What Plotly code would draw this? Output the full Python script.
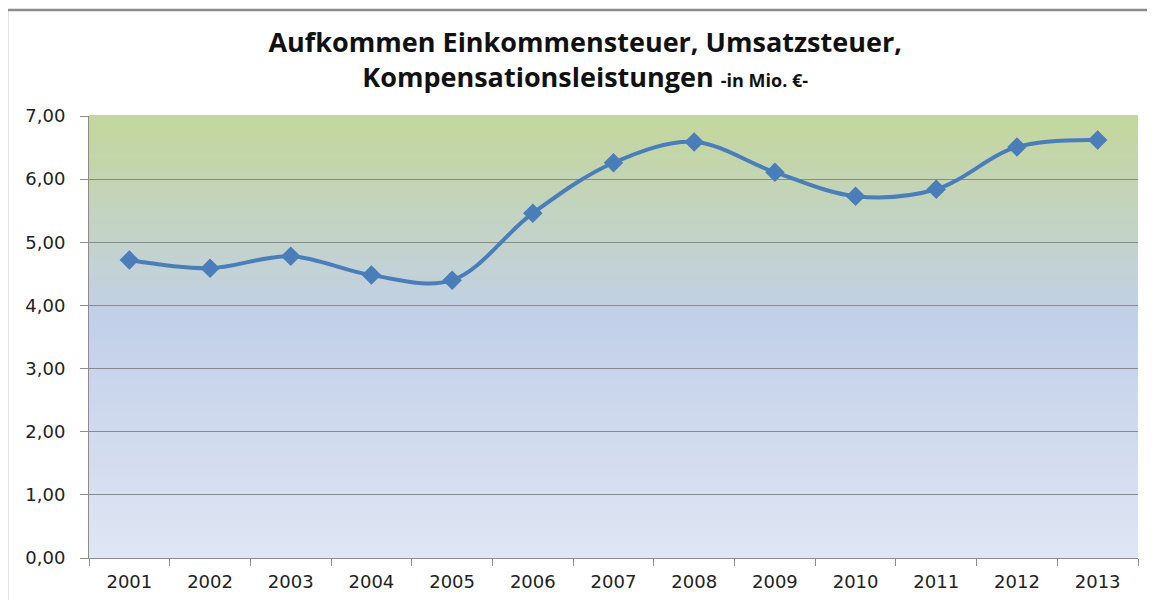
import plotly.graph_objects as go

years = ["2001", "2002", "2003", "2004", "2005", "2006", "2007",
         "2008", "2009", "2010", "2011", "2012", "2013"]
values = [4.72, 4.59, 4.78, 4.48, 4.40, 5.46, 6.26,
          6.59, 6.11, 5.73, 5.84, 6.51, 6.62]
y_ticks = [0, 1, 2, 3, 4, 5, 6, 7]

line_color = "#4a7ebb"

fig = go.Figure()
fig.add_trace(go.Scatter(
    x=years, y=values, mode="lines+markers",
    line=dict(color=line_color, width=4, shape="spline", smoothing=1.0),
    marker=dict(symbol="diamond", size=15, color=line_color),
    hoverinfo="x+y", showlegend=False,
))

# gradient background (top green -> middle blue -> light bottom)
stops = [(0.0, (196, 215, 155)), (0.47, (194, 208, 233)), (1.0, (223, 230, 244))]

def color_at(t):
    for (t0, c0), (t1, c1) in zip(stops[:-1], stops[1:]):
        if t0 <= t <= t1:
            u = (t - t0) / (t1 - t0)
            return "rgb(%d,%d,%d)" % tuple(round(a + (b - a) * u) for a, b in zip(c0, c1))
    return "rgb(%d,%d,%d)" % stops[-1][1]

shapes = []
n = 150
for i in range(n):
    t = (i + 0.5) / n
    shapes.append(dict(type="rect", xref="x domain", yref="y domain",
                       x0=0, x1=1, y0=1 - (i + 1) / n, y1=1 - i / n + 0.002,
                       fillcolor=color_at(t), line=dict(width=0), layer="below"))
# outer chart border (cropped at right/bottom)
shapes.append(dict(type="rect", xref="paper", yref="paper",
                   x0=-0.0782, x1=1.2, y0=-0.3, y1=1.2398,
                   line=dict(color="#8c8c8c", width=2.5), fillcolor="rgba(0,0,0,0)",
                   layer="above"))

fig.update_layout(
    width=1155, height=600,
    margin=dict(l=81, r=25, t=108, b=50),
    paper_bgcolor="white", plot_bgcolor="rgba(0,0,0,0)",
    separators=",.",
    shapes=shapes,
    title=dict(
        text="Aufkommen Einkommensteuer, Umsatzsteuer,<br>Kompensationsleistungen"
             " <span style='font-size:18px'>-in Mio. €-</span>",
        x=0.473, xref="paper", xanchor="center", y=0.927, yref="container", yanchor="middle",
        font=dict(family="Open Sans", size=27, color="#111111", weight="bold"),
    ),
    xaxis=dict(
        type="category", tickson="boundaries", ticks="outside", ticklen=7,
        tickcolor="#8c8c8c", showline=True, linecolor="#8c8c8c", linewidth=1,
        showgrid=False, range=[-0.5, 12.5], ticklabelstandoff=7,
        tickfont=dict(family="DejaVu Sans", size=18, color="#222222"),
    ),
    yaxis=dict(
        range=[0, 7], tickvals=y_ticks, tickformat=".2f",
        ticks="outside", ticklen=8, tickcolor="#8c8c8c",
        showline=True, linecolor="#8c8c8c", linewidth=1,
        showgrid=True, gridcolor="#8a8a8a", gridwidth=1, zeroline=False,
        ticklabelstandoff=11,
        tickfont=dict(family="DejaVu Sans", size=18, color="#222222"),
    ),
)

fig.write_html("out.html")
